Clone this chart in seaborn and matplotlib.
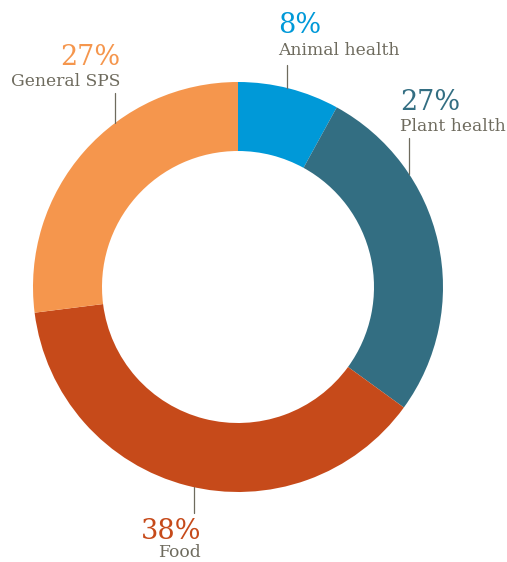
import numpy as np
import seaborn as sns
import matplotlib.pyplot as plt

# shares of SPS measures by area (clockwise from 12 o'clock)
labels = ["Animal health", "Plant health", "Food", "General SPS"]
shares = [8, 27, 38, 27]
colors = ["#0099d8", "#336e82", "#c64a1a", "#f5964d"]

sns.set_theme(style="white")
plt.rcParams['font.family'] = ['DejaVu Serif']

W, H = 507, 562
fig = plt.figure(figsize=(W / 100, H / 100), dpi=100)
ax = fig.add_axes([0, 0, 1, 1])

cx, cy, R, ring = 238, H - 287, 205, 69
ax.pie(shares, colors=colors, startangle=90, counterclock=False,
       center=(cx, cy), radius=R, frame=True,
       wedgeprops=dict(width=ring, linewidth=0))

ax.set_xlim(0, W)
ax.set_ylim(0, H)
ax.set_aspect('equal')
ax.axis('off')

label_grey = "#6e6b5e"

# (text x, pct baseline, label baseline, ha, leader x, leader top) in px from top-left
placement = [
    (278, 33, 55, 'left', 287, 65),
    (400, 110, 131, 'left', 409, 138),
    (201, 539, 557, 'right', 194, 513),
    (120, 65, 86, 'right', 115, 93),
]

for lab, val, col, (tx, py, ly_txt, ha, lx, ly) in zip(labels, shares, colors, placement):
    ax.text(tx, H - py, f"{val}%", color=col, fontsize=19.5, ha=ha, va='baseline')
    ax.text(tx, H - ly_txt, lab, color=label_grey, fontsize=12.3, ha=ha, va='baseline')
    dx = lx - cx
    dy = np.sqrt(R ** 2 - dx ** 2)
    y_ring = cy + dy if (H - ly) > cy else cy - dy
    ax.plot([lx, lx], [H - ly, y_ring], color=label_grey, lw=0.9)

fig.savefig("out.png", dpi=100)
